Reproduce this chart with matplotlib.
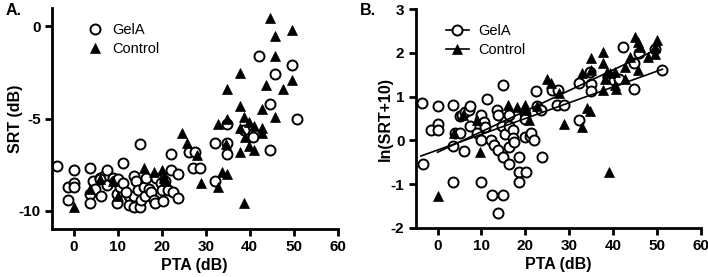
import numpy as np
import matplotlib.pyplot as plt
from matplotlib.lines import Line2D

plt.rcParams['font.family'] = ['Liberation Sans', 'DejaVu Sans']
plt.rcParams['axes.unicode_minus'] = False

# ---- panel A: SRT (dB) vs PTA (dB)
gel_pta_a = [-3.8, -1.3, -1.3, 0.0, 0.0, 0.0, 3.6, 3.6, 3.6, 4.5, 4.9, 5.9, 6.3, 7.0,
             7.6, 7.6, 8.9, 9.5, 9.8, 9.8, 10.1, 10.6, 11.2, 11.3, 12.5, 12.5, 13.6,
             13.6, 13.6, 14.2, 14.7, 15.0, 15.1, 15.3, 15.9, 16.3, 16.5, 17.2, 17.6,
             18.2, 18.4, 18.8, 19.9, 20.1, 20.3, 20.7, 21.4, 22.2, 22.2, 22.5, 23.7,
             23.7, 26.2, 27.5, 27.2, 28.6, 32.2, 32.2, 34.9, 34.9, 34.9, 38.8, 40.7,
             42.2, 44.6, 44.6, 45.8, 49.6, 50.8, 6.0, 12.0]
gel_srt_a = [-7.6, -8.7, -9.4, -7.8, -8.5, -8.7, -7.7, -9.1, -9.6, -8.4, -8.8, -8.2,
             -9.2, -8.1, -7.8, -8.6, -8.2, -8.4, -9.1, -9.6, -8.3, -8.7, -8.5, -7.4,
             -9.2, -9.7, -8.1, -9.2, -9.8, -8.4, -8.9, -6.4, -9.8, -9.4, -8.7, -9.2,
             -8.2, -8.8, -9.0, -9.4, -9.6, -8.2, -8.5, -8.9, -9.5, -8.4, -8.9, -6.9,
             -7.8, -9.0, -8.0, -9.3, -6.8, -6.8, -7.7, -7.7, -6.3, -8.4, -5.3, -6.3,
             -6.9, -5.6, -6.0, -1.6, -4.2, -6.7, -2.6, -2.1, -5.0, -8.3, -9.0]
ctl_pta_a = [0.0, 3.6, 6.0, 9.0, 10.0, 15.9, 18.2, 20.0, 20.5, 21.0, 24.7, 25.7, 28.0,
             28.9, 32.8, 32.8, 33.7, 34.9, 34.6, 34.9, 34.8, 37.7, 37.7, 37.8, 37.8,
             38.8, 39.0, 38.8, 39.8, 39.8, 40.9, 40.9, 42.7, 42.7, 42.9, 43.6, 44.7,
             45.7, 45.7, 45.7, 47.5, 49.6, 49.6]
ctl_srt_a = [-9.8, -8.8, -8.3, -8.4, -9.2, -7.7, -7.9, -7.8, -8.2, -8.4, -5.8, -6.3,
             -7.0, -8.5, -5.3, -8.7, -7.9, -8.0, -6.4, -5.0, -3.4, -2.5, -4.3, -5.5,
             -6.8, -4.9, -6.0, -9.6, -5.2, -6.5, -5.4, -6.7, -4.5, -5.5, -5.8, -3.2,
             0.45, -0.5, -1.6, -4.9, -3.4, -0.2, -2.9]

# ---- panel B: ln(SRT+10) vs PTA (dB)
gel_pta_b = [-3.6, -3.3, -1.4, 0.0, 0.0, 0.0, 3.6, 3.6, 3.6, 4.0, 5.2, 5.2, 5.5, 6.1,
             6.2, 7.2, 7.4, 7.4, 9.0, 9.7, 9.9, 9.9, 9.9, 10.5, 10.9, 11.2, 12.1, 12.4,
             12.8, 13.5, 13.7, 13.7, 13.9, 14.7, 15.0, 15.0, 15.0, 15.4, 16.2, 16.2,
             16.2, 16.2, 17.3, 17.3, 17.5, 18.6, 18.6, 18.6, 19.9, 19.9, 20.0, 20.1,
             21.1, 21.3, 22.0, 22.4, 22.6, 23.7, 23.9, 26.0, 27.5, 27.2, 28.9, 32.3,
             32.3, 34.9, 34.9, 34.8, 38.9, 40.2, 41.4, 42.4, 44.8, 44.8, 46.0, 49.7,
             51.3]
gel_ln_b = [0.85, -0.53, 0.24, 0.78, 0.38, 0.24, 0.82, -0.12, -0.95, 0.17, 0.17, 0.55,
            0.57, -0.24, 0.65, 0.70, 0.78, 0.32, 0.17, 0.46, 0.57, 0.0, -0.95, 0.42,
            0.31, 0.94, 0.02, -1.24, -0.11, 0.69, -0.21, -1.66, 0.57, 0.34, 1.27,
            -0.38, -1.24, 0.15, 0.57, -0.14, -0.53, 0.32, 0.24, 0.06, -0.04, -0.38,
            -0.73, -0.95, 0.61, 0.08, 0.50, -0.73, 0.11, 0.18, 0.0, 1.13, 0.78, 0.70,
            -0.38, 1.16, 1.16, 0.82, 0.82, 1.31, 0.46, 1.30, 1.13, 1.56, 1.44, 1.39,
            1.40, 2.14, 1.77, 1.18, 2.00, 2.08, 1.60]
ctl_pta_b = [0.0, 3.8, 5.9, 9.0, 9.7, 16.1, 18.1, 19.9, 20.0, 20.9, 22.6, 24.9, 25.8,
             27.7, 28.9, 45.0, 45.8, 46.2, 50.0, 49.7, 49.6, 47.9, 37.8, 34.9, 32.9,
             34.9, 37.8, 38.6, 39.3, 40.5, 42.7, 43.9, 45.8, 38.2, 40.8, 37.8, 40.5,
             42.7, 34.0, 34.8, 32.9, 39.1]
ctl_ln_b = [-1.26, 0.17, 0.57, 0.46, -0.27, 0.82, 0.76, 0.82, 0.69, 0.46, 0.78, 1.41,
            1.31, 1.08, 0.38, 2.37, 2.25, 2.14, 2.29, 2.14, 1.98, 1.91, 2.02, 1.89,
            1.53, 1.62, 1.76, 1.56, 1.53, 1.56, 1.68, 1.91, 1.60, 1.41, 1.18, 1.15,
            1.26, 1.41, 0.73, 0.67, 0.31, -0.73]

# fitted lines: (x range, intercept, slope)
gel_fit = ([-3.8, 51.3], -0.22, 0.0360)
ctl_fit = ([0.0, 50.0], -0.27, 0.0470)

fig = plt.figure(figsize=(7.08, 2.77), dpi=100)
axA = fig.add_axes([0.073, 0.173, 0.404, 0.798])
axB = fig.add_axes([0.587, 0.177, 0.4025, 0.790])

circ = dict(marker='o', ms=7.2, mfc='white', mec='black', mew=1.4, ls='none')
tri = dict(marker='^', ms=7.0, mfc='black', mec='black', mew=0.5, ls='none')

for ax in (axA, axB):
    for s in ('top', 'right'):
        ax.spines[s].set_visible(False)
    for s in ('left', 'bottom'):
        ax.spines[s].set_linewidth(2.0)
    ax.tick_params(width=2.0, length=5, labelsize=11, pad=3)
    ax.set_xlim(-5, 60)
    ax.set_xticks([0, 10, 20, 30, 40, 50, 60])
    ax.set_xlabel('PTA (dB)', fontsize=11.5, fontweight='bold', labelpad=3)

# panel A
axA.plot(gel_pta_a, gel_srt_a, **circ)
axA.plot(ctl_pta_a, ctl_srt_a, **tri)
axA.set_ylim(-11, 1)
axA.set_yticks([-10, -5, 0])
axA.set_ylabel('SRT (dB)', fontsize=11.5, fontweight='bold')
axA.yaxis.set_label_coords(-0.10, 0.5)
hA = [Line2D([], [], **circ), Line2D([], [], **tri)]
axA.legend(hA, ['GelA', 'Control'], loc='upper left', bbox_to_anchor=(0.08, 0.99),
           frameon=False, fontsize=10.5, handletextpad=0.7, labelspacing=0.3,
           handlelength=1.0)

# panel B
axB.plot(gel_pta_b, gel_ln_b, **circ)
axB.plot(ctl_pta_b, ctl_ln_b, **tri)
for rng, b0, b1 in (gel_fit, ctl_fit):
    xs = np.array(rng)
    axB.plot(xs, b0 + b1 * xs, color='black', lw=1.2)
axB.set_ylim(-2, 3)
axB.set_yticks([-2, -1, 0, 1, 2, 3])
axB.set_ylabel('ln(SRT+10)', fontsize=11.5, fontweight='bold')
axB.yaxis.set_label_coords(-0.08, 0.5)
hB = [Line2D([], [], color='black', lw=1.2, **{k: v for k, v in circ.items() if k != 'ls'}),
      Line2D([], [], color='black', lw=1.2, **{k: v for k, v in tri.items() if k != 'ls'})]
axB.legend(hB, ['GelA', 'Control'], loc='upper left', bbox_to_anchor=(0.06, 0.99),
           frameon=False, fontsize=10.5, handletextpad=0.6, labelspacing=0.3,
           handlelength=1.6)

for ax in (axA, axB):
    for lab in ax.get_xticklabels() + ax.get_yticklabels():
        lab.set_fontweight('bold')

fig.text(0.008, 0.962, 'A.', fontsize=11.5, fontweight='bold', va='center')
fig.text(0.508, 0.962, 'B.', fontsize=11.5, fontweight='bold', va='center')

fig.savefig('out.png', dpi=100)
